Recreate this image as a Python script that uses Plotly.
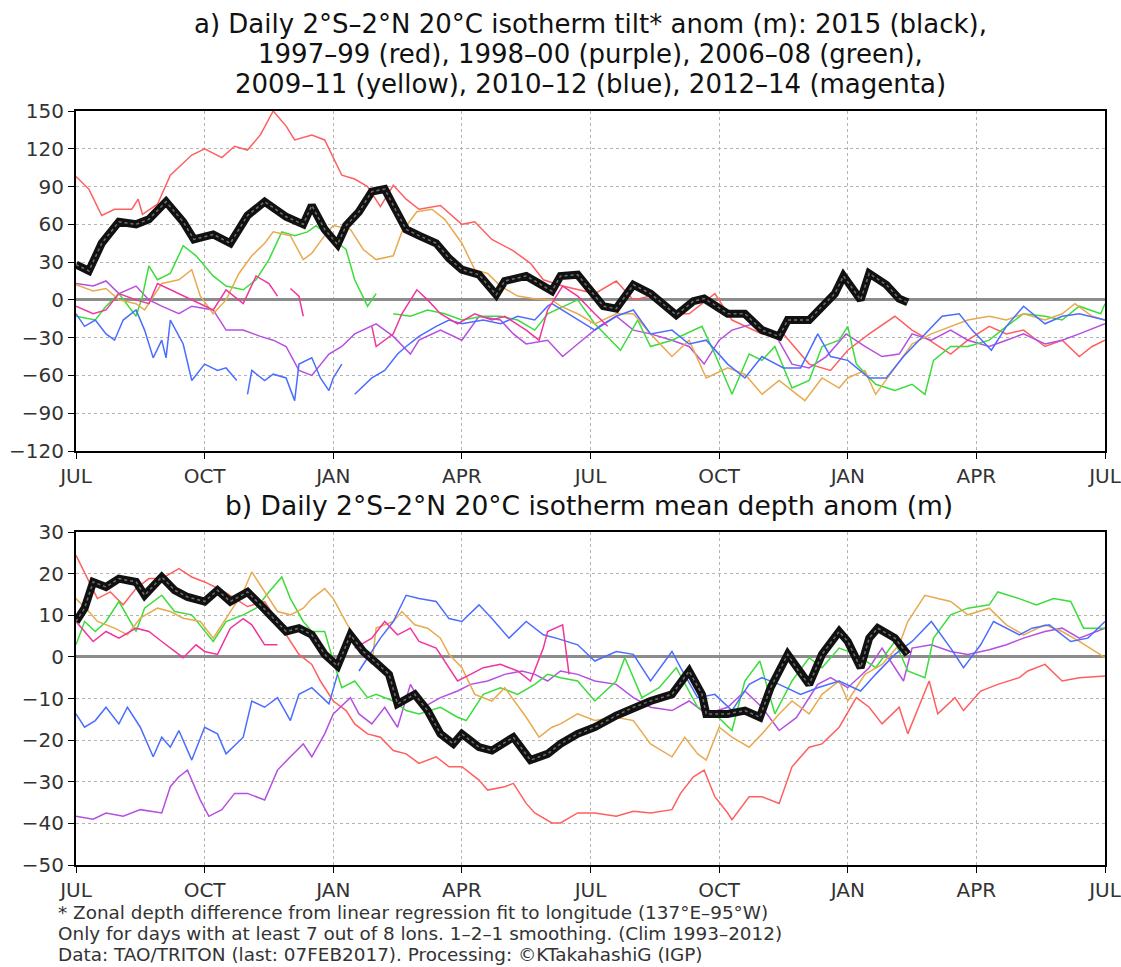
import plotly.graph_objects as go

# ---------------- data (x in months since July of first year) ----------------
MONTH_LABELS = ["JUL", "OCT", "JAN", "APR", "JUL", "OCT", "JAN", "APR", "JUL"]
MONTH_TICKS = [0, 3, 6, 9, 12, 15, 18, 21, 24]
A_TICKS = [-120, -90, -60, -30, 0, 30, 60, 90, 120, 150]
B_TICKS = [-50, -40, -30, -20, -10, 0, 10, 20, 30]

# Panel a: isotherm tilt anomaly (m)
A_BLACK_X = [0, 0.3, 0.6, 1.0, 1.4, 1.7, 2.1, 2.5, 2.75, 3.2, 3.6, 4.0, 4.4, 4.9, 5.3, 5.5, 5.8, 6.1, 6.3, 6.6,
             6.9, 7.2, 7.4, 7.7, 8.0, 8.4, 8.7, 9.0, 9.4, 9.8, 10.0, 10.5, 10.7, 11.1, 11.3, 11.7, 12.3, 12.6, 13.0,
             13.4, 14.0, 14.4, 14.65, 14.9, 15.2, 15.6, 16.0, 16.4, 16.6, 17.1, 17.4, 17.7, 17.9, 18.3, 18.5, 18.9,
             19.2, 19.4]
A_BLACK_Y = [28, 23, 45, 62, 60, 64, 78, 62, 48, 52, 45, 67, 78, 66, 60, 75, 56, 44, 59, 70,
             86, 88, 75, 56, 51, 45, 33, 24, 20, 4, 15, 19, 15, 7, 19, 20, -5, -7, 12,
             5, -12, -1, 1, -4, -11, -11, -24, -29, -16, -16, -5, 5, 19, 0, 21, 12,
             1, -2]

A_RED_X = [0, 0.3, 0.6, 0.9, 1.3, 1.45, 1.55, 1.9, 2.2, 2.7, 3.0, 3.4, 3.7, 4.0, 4.3, 4.6, 4.9, 5.1, 5.5, 5.8,
           6.2, 6.5, 6.8, 7.1, 7.4, 7.7, 8.0, 8.5, 9.0, 9.3, 9.7, 10.2, 10.6, 10.9, 11.35, 12.1, 12.6, 13.0, 13.4,
           13.9, 14.3, 14.9, 15.3, 16.0, 16.5, 17.1, 17.6, 18.0, 18.5, 19.1, 19.5, 19.9, 20.4, 20.8, 21.3, 21.7,
           22.1, 22.6, 23.0, 23.4, 23.7, 24.0]
A_RED_Y = [98, 88, 67, 72, 72, 80, 68, 76, 99, 115, 120, 113, 122, 119, 131, 150, 138, 127, 131, 127,
           99, 96, 90, 74, 91, 80, 72, 75, 60, 62, 48, 39, 29, 16, 11, 5, 15, 0, 3,
           -11, -11, 5, -16, -27, -27, -51, -56, -40, -27, -13, -24, -32, -43, -32, -21, -27,
           -24, -37, -32, -45, -37, -32]

A_PURPLE_X = [0, 0.4, 0.7, 1.0, 1.4, 1.7, 2.0, 2.4, 2.7, 3.2, 3.5, 3.9, 4.3, 4.6, 4.9, 5.2, 5.5, 5.9, 6.2, 6.5,
              7.0, 7.4, 7.8, 8.0, 8.5, 9.0, 9.4, 9.9, 10.2, 10.5, 11.0, 11.35, 11.7, 12.2, 12.6, 13.0, 13.4, 13.9,
              14.3, 14.65, 15.0, 15.3, 15.8, 16.3, 16.7, 17.1, 17.5, 17.96, 18.4, 18.8, 19.2, 19.5, 19.95, 20.4,
              20.8, 21.3, 21.7, 22.1, 22.6, 23.0, 23.4, 24.0]
A_PURPLE_Y = [13, 11, 15, 5, 11, 0, -5, -11, -5, -8, -24, -24, -29, -32, -37, -56, -60, -43, -37, -27,
              -19, -29, -43, -32, -24, -32, -13, -16, -27, -35, -32, -45, -35, -21, -13, -24, -27, -32,
              -37, -51, -32, -24, -19, -27, -51, -54, -45, -27, -37, -45, -43, -27, -32, -24,
              -32, -37, -32, -27, -35, -32, -27, -19]

A_GREEN_X = [0, 0.45, 0.7, 1.0, 1.4, 1.55, 1.7, 1.9, 2.2, 2.5, 2.8, 3.2, 3.5, 3.9, 4.2, 4.5, 4.8, 5.1, 5.4, 5.6,
             6.0, 6.3, 6.5, 6.8, 7.0, 7.2, 7.4, 7.8, 8.2, 8.6, 9.0, 9.5, 9.9, 10.3, 10.7, 11.0, 11.7, 12.1, 12.7,
             13.1, 13.4, 13.9, 14.6, 14.9, 15.3, 15.7, 16.0, 16.3, 16.7, 17.1, 17.4, 17.8, 18.0, 18.2, 18.65,
             19.1, 19.5, 19.8, 20.0, 20.4, 20.8, 21.3, 21.7, 22.1, 22.6, 23.0, 23.4, 23.9, 24.0]
A_GREEN_Y = [-13, -16, -5, 5, -13, 3, 27, 16, 21, 43, 35, 19, 11, 8, 16, 32, 54, 51, 54, 59,
             48, 40, 16, -5, 5, None, -11, -13, -8, -11, -16, -13, -13, -16, -24, -11, 0, -19, -40,
             -16, -37, -32, -21, -43, -75, -43, -48, -37, -70, -64, -37, -32, -21, -51, -67,
             -72, -67, -75, -48, -37, -37, -32, -21, -11, -13, -16, -5, -11, -3]

A_YELLOW_X = [0, 0.4, 0.7, 1.0, 1.4, 1.6, 2.0, 2.4, 2.7, 2.9, 3.2, 3.5, 3.8, 4.1, 4.4, 4.6, 5.0, 5.3, 5.5, 5.8,
              6.0, 6.4, 6.7, 7.0, 7.4, 7.6, 7.95, 8.3, 8.6, 9.0, 9.3, 9.6, 9.9, 10.3, 10.7, 11.1, 11.3, 11.7,
              12.1, 12.6, 13.0, 13.4, 13.9, 14.3, 14.7, 15.2, 15.6, 16.0, 16.4, 17.0, 17.4, 17.8, 18.0, 18.4,
              18.65, 19.1, 19.5, 19.95, 20.4, 20.8, 21.3, 21.7, 22.1, 22.6, 23.0, 23.3, 23.7, 24.0]
A_YELLOW_Y = [12, 7, 9, 0, -3, -8, 13, 16, 24, 3, -11, 0, 21, 35, 45, 54, 51, 32, 37, 51,
              59, 56, 40, 32, 35, 54, 70, 72, 64, 45, 24, 21, 11, 3, 1, 0, -5, -11,
              -19, -11, -11, -27, -45, -32, -62, -54, -59, -75, -64, -80, -62, -70, -62, -56,
              -75, -54, -35, -27, -21, -16, -13, -16, -11, -16, -11, -3, -13, -16]

A_BLUE_X = [0, 0.2, 0.45, 0.7, 0.9, 1.1, 1.4, 1.6, 1.8, 2.0, 2.1, 2.2, 2.5, 2.7, 3.0, 3.3, 3.5, 3.75, 3.85, 4.0,
            4.1, 4.4, 4.6, 4.9, 5.1, 5.2, 5.5, 5.7, 5.9, 6.0, 6.2, 6.3, 6.5, 6.9, 7.2, 7.5, 7.7, 8.0, 8.4, 8.7,
            9.0, 9.5, 9.9, 10.3, 10.7, 11.0, 11.1, 11.7, 12.1, 12.6, 13.0, 13.4, 13.9, 14.3, 14.7, 15.2, 15.6,
            16.0, 16.5, 16.9, 17.3, 17.6, 18.0, 18.5, 18.9, 19.3, 19.8, 20.2, 20.6, 20.9, 21.35, 21.7, 22.1,
            22.6, 23.0, 23.4, 24.0]
A_BLUE_Y = [-11, -21, -16, -27, -32, -16, -8, -24, -46, -32, -46, -16, -35, -64, -51, -56, -54, -64, None, -75,
            -56, -64, -59, -62, -80, -51, -46, -62, -72, -62, -51, None, -75, -62, -56, -43, -37, -29, -21, -16,
            -19, -16, -19, -13, -16, -5, -3, -16, -24, -13, -8, -27, -24, -35, -32, -51, -62,
            -45, -54, -54, -27, -45, -48, -62, -62, -45, -27, -13, -11, -24, -40, -21, -5,
            -19, -13, -11, -16]

A_MAGENTA_X = [0, 0.4, 0.7, 1.0, 1.4, 1.7, 1.9, 2.2, 2.5, 2.9, 3.2, 3.5, 3.9, 4.2, 4.5, 4.7, 4.85, 5.0, 5.2, 5.3,
               6.0, 6.9, 7.0, 7.4, 7.6, 7.95, 8.2, 8.5, 8.9, 9.3, 9.7, 10.0, 10.5, 10.8, 11.0, 11.35, 11.7,
               12.1, 12.4]
A_MAGENTA_Y = [-5, -11, -8, 5, 0, -3, 13, 8, 3, -3, -8, 8, -3, 19, 13, 3, None, 9, 3, -13,
               None, -21, -37, -27, -11, 8, 0, -11, -19, -11, -16, -13, -24, -32, -8, 11, 3,
               -11, -21]

# Panel b: isotherm mean depth anomaly (m)
B_BLACK_X = [0, 0.2, 0.4, 0.7, 1.0, 1.4, 1.6, 2.0, 2.3, 2.6, 3.0, 3.3, 3.6, 4.0, 4.3, 4.6, 4.9, 5.2, 5.5, 5.8,
             6.1, 6.4, 6.7, 7.0, 7.3, 7.5, 7.9, 8.2, 8.5, 8.8, 9.0, 9.4, 9.7, 10.2, 10.6, 11.0, 11.3, 11.7, 12.1,
             12.6, 13.0, 13.4, 13.9, 14.3, 14.6, 14.7, 15.2, 15.6, 15.95, 16.2, 16.6, 16.9, 17.1, 17.4, 17.8,
             18.0, 18.3, 18.5, 18.7, 19.1, 19.4]
B_BLACK_Y = [8.5, 11.7, 18, 16.8, 18.8, 18, 14.8, 19.2, 16, 14.4, 13.3, 16, 13.3, 15.6, 12.5, 9.3, 6.1, 6.9, 5.3,
             0.6, -2.2, 5.3, 1.3, -1.4, -4.2, -11.3, -9, -12.9, -18.5, -20.9, -18.5, -21.7, -22.5, -19.3, -24.8,
             -23.3, -20.9, -18.5, -16.9, -14.1, -12.1, -10.6, -9, -3.4, -9, -13.7, -13.7, -12.9, -14.5, -7.4,
             0.6, -4.2, -6.6, 0.6, 6.1, 3.7, -2.6, 4.5, 6.9, 4.5, 0.6]

B_RED_X = [0, 0.3, 0.5, 0.8, 1.1, 1.4, 1.7, 2.0, 2.4, 2.7, 3.0, 3.4, 3.7, 4.0, 4.4, 4.7, 5.0, 5.2, 5.5, 5.7,
           6.0, 6.3, 6.5, 6.8, 7.1, 7.4, 7.7, 8.0, 8.4, 8.7, 9.0, 9.4, 9.6, 10.0, 10.2, 10.5, 10.7, 11.1, 11.3,
           11.7, 12.1, 12.6, 13.0, 13.4, 13.9, 14.1, 14.4, 14.65, 14.9, 15.2, 15.3, 15.7, 16.0, 16.4, 16.7,
           17.1, 17.4, 17.8, 18.2, 18.5, 18.8, 19.2, 19.4, 19.9, 20.1, 20.5, 20.7, 21.1, 21.5, 22.0, 22.2,
           22.6, 23.0, 23.4, 24.0]
B_RED_Y = [24.4, 18, 14, 15.6, 12.5, 16.4, 18.8, 18.8, 21.2, 19.2, 18, 16, 14, 12.1, 13.3, 8.5, 3.7, 0.6, -1.8,
           -5.8, -10.6, -12.9, -16.1, -18.5, -19.3, -22.5, -23.3, -25.6, -24, -26.4, -26.4, -29.6, -32, -31.2,
           -30.4, -35.2, -37.5, -39.9, -39.9, -37.5, -37.5, -38.3, -37.1, -37.5, -36.7, -32.8, -28.8, -27.2,
           -33.6, -37.5, -39.1, -33.6, -33.6, -35.2, -26.4, -21.7, -20.9, -16.9, -9.8, -12.1, -16.1, -12.1,
           -18.5, -5.8, -13.7, -9.8, -12.9, -8.2, -6.6, -5, -3.4, -1.8, -5.8, -5, -4.6]

B_PURPLE_X = [0, 0.4, 0.7, 1.1, 1.5, 2.0, 2.2, 2.4, 2.6, 2.9, 3.1, 3.4, 3.7, 4.0, 4.4, 4.7, 5.0, 5.3, 5.5, 5.8,
              6.0, 6.4, 6.6, 6.9, 7.2, 7.5, 7.8, 8.1, 8.5, 8.9, 9.2, 9.6, 10.0, 10.4, 10.7, 11.0, 11.3, 11.7,
              12.1, 12.6, 13.0, 13.4, 13.9, 14.3, 14.7, 15.2, 15.6, 16.0, 16.4, 16.8, 17.3, 17.6, 18.0, 18.5,
              18.8, 19.3, 19.5, 19.95, 20.4, 20.8, 21.3, 21.7, 22.1, 22.6, 23.0, 23.4, 24.0]
B_PURPLE_Y = [-38.3, -39, -37.5, -38.3, -36.7, -37.5, -31.2, -28.8, -27.2, -34.4, -38.3, -36.7, -32.8, -32.8,
              -34.4, -27.2, -24, -20.9, -24, -18.5, -13.7, -9.8, -13.7, -16.1, -12.1, -16.9, -6.6, -12.1, -9.8,
              -8.2, -6.6, -5.8, -4.2, -3.4, -4.2, -5.8, -3.4, -4.2, -5.8, -6.6, -9.8, -12.1, -12.9, -10.6,
              -13.7, -12.1, -8.2, -12.1, -17.7, -14.6, -6.6, -5, -7.4, -2.6, 2.1, -5.8, 2.1, 2.9, 1.3, 0.6,
              1.7, 2.9, 4.5, 6.1, 6.9, 4.5, 6.9]

B_GREEN_X = [0, 0.2, 0.45, 0.7, 1.0, 1.4, 1.6, 2.0, 2.3, 2.7, 3.2, 3.5, 3.9, 4.2, 4.5, 4.8, 5.0, 5.3, 5.5, 5.8,
             6.0, 6.2, 6.5, 6.8, 7.0, 7.4, 7.7, 8.0, 8.5, 8.9, 9.1, 9.5, 9.9, 10.3, 10.7, 11.0, 11.3, 11.7, 12.1,
             12.6, 12.8, 13.2, 13.6, 14.0, 14.5, 14.9, 15.3, 15.6, 15.95, 16.3, 16.7, 17.1, 17.4, 17.8, 18.2,
             18.65, 19.1, 19.4, 19.8, 20.0, 20.4, 20.8, 21.3, 21.5, 22.0, 22.4, 22.8, 23.2, 23.5, 24.0]
B_GREEN_Y = [2.9, 8.5, 6.1, 8.5, 13.3, 6.1, 11.7, 14.8, 10.9, 10.1, 3.7, 8.5, 10.1, 11.7, 15.6, 19.2, 14, 8.5,
             6.1, 6.1, -1, -7.4, -5.8, -9.8, -9, -10.6, -12.9, -13.7, -12.1, -14.5, -15.3, -9, -7.4, -9, -6.6,
             -4.2, -5, -5.8, -10.6, -5.8, -0.2, -9.8, -7.4, -2.6, -12.1, -13.7, -17.7, -5.8, -1, -13.7, -5.8,
             -0.2, -2.6, 2.1, 0.6, -2.6, 3.7, -3.4, -5, 4.5, 10.1, 11.7, 12.5, 15.6, 14, 12.5, 14, 13.3, 6.9,
             6.9]

B_YELLOW_X = [0, 0.3, 0.5, 0.9, 1.2, 1.5, 1.9, 2.2, 2.5, 2.9, 3.2, 3.5, 3.9, 4.1, 4.4, 4.7, 5.0, 5.3, 5.5, 5.8,
              6.0, 6.3, 6.5, 6.9, 7.0, 7.4, 7.6, 7.9, 8.2, 8.5, 8.7, 9.0, 9.3, 9.7, 10.0, 10.5, 10.8, 11.1, 11.3,
              11.7, 12.1, 12.6, 13.0, 13.4, 13.9, 14.2, 14.5, 14.7, 15.0, 15.3, 15.7, 16.0, 16.4, 16.7, 17.1,
              17.4, 17.8, 18.0, 18.4, 18.8, 19.2, 19.4, 19.8, 20.1, 20.4, 20.8, 21.3, 21.7, 22.1, 22.6, 23.0,
              23.4, 24.0]
B_YELLOW_Y = [14, 10.9, 8.5, 6.9, 5.3, 9.3, 11.7, 10.9, 9.3, 8.5, 4.5, 9.3, 15.6, 20.4, 15.6, 10.9, 10.1, 11.7,
              14, 16.4, 14, 8.5, 4.5, -1.8, 6.9, 8.5, 10.9, 7.7, 6.9, 4.5, 0.6, -2.6, -9, -10.6, -7.4, -14.5,
              -19.3, -16.9, -16.1, -13.7, -15.3, -14.5, -15.3, -20.9, -24, -19.3, -23.3, -24.8, -16.9, -19.3,
              -21.7, -18.5, -13.7, -10.6, -13.7, -9, -5.8, -10.6, -4.2, -1.8, 2.9, 8.5, 14.8, 14, 13.3, 10.1,
              11.7, 7.7, 5.3, 7.7, 6.1, 3.7, -0.2]

B_BLUE_X = [0, 0.2, 0.45, 0.7, 1.0, 1.2, 1.5, 1.8, 2.0, 2.2, 2.4, 2.7, 3.0, 3.3, 3.5, 3.9, 4.1, 4.4, 4.7, 5.0,
            5.2, 5.5, 5.9, 6.1, 6.35, 6.6, 6.9, 7.1, 7.4, 7.7, 8.0, 8.4, 8.7, 9.0, 9.4, 9.7, 10.1, 10.5, 10.9,
            11.2, 11.7, 12.1, 12.6, 13.0, 13.4, 13.9, 14.1, 14.5, 14.9, 15.3, 15.7, 16.0, 16.4, 16.9, 17.3,
            17.8, 18.3, 18.65, 19.1, 19.5, 19.95, 20.4, 20.7, 21.1, 21.4, 22.0, 22.3, 22.7, 23.2, 23.6, 24.0]
B_BLUE_Y = [-13.7, -16.9, -15.3, -12.1, -16.1, -12.1, -16.9, -24, -19.3, -21.7, -17.7, -24.8, -16.9, -18.5,
            -23.3, -19.3, -10.6, -12.1, -9.8, -15.3, -9, -7.4, -11.3, -4.2, None, -3.4, 1.3, 4.5, 8.5, 14.8, 14,
            13.3, 9.2, 8.5, 12.5, 9.2, 4.5, 8.5, 5.3, 4.5, 2.9, -1, 1.3, 0.6, -5.8, 1.3, -2.6, -9.8, -9, -12.9,
            -6.6, -5, -6.6, -9, -7.4, -5.8, -8.2, -4.2, 0.6, 3.7, 8.5, 2.1, -2.6, 2.9, 8.5, 5.3, 6.9, 7.7, 3.7,
            4.5, 8.5]

B_MAGENTA_X = [0, 0.4, 0.7, 1.0, 1.4, 1.7, 2.0, 2.5, 2.8, 3.0, 3.3, 3.6, 3.9, 4.1, 4.4, 4.7, 5.5, 6.5, 6.9, 7.2,
               7.5, 7.8, 8.0, 8.4, 8.6, 8.9, 9.2, 9.5, 9.9, 10.3, 10.6, 10.9, 11.0, 11.35, 11.5]
B_MAGENTA_Y = [8.5, 3.7, 6.1, 4.5, 6.9, 6.1, 3.7, -0.2, 2.9, 1.3, 0.6, 6.9, 9.2, 7.7, 2.9, 2.9, None, 2.1, 4.5,
               8.5, 5.3, 6.9, 3.7, 2.1, -1, -5.8, -4.2, -2.6, -1.8, -3.4, -5.8, 2.1, 6.1, 7.7, -4.2]

# ---------------- styling ----------------
RED = "#ff5f5f"
PURPLE = "#b54fe0"
GREEN = "#3cdc3c"
YELLOW = "#e8aa4e"
BLUE = "#4b6dff"
MAGENTA = "#f0359c"
BLACK = "#111111"

TITLE_FONT = "DejaVu Sans"
TICK_FONT = dict(family="DejaVu Sans", size=20, color="#333333")

W, H = 1121.0, 967.0
ML, MR = 76, W - 1105
PW = W - ML - MR


def py(px):
    """paper y for a screen pixel row"""
    return 1 - px / H


def pxx(px):
    """paper x for a screen pixel column"""
    return (px - ML) / PW


panels = [
    ("x", "y", [(A_RED_X, A_RED_Y, RED), (A_PURPLE_X, A_PURPLE_Y, PURPLE), (A_GREEN_X, A_GREEN_Y, GREEN),
                (A_YELLOW_X, A_YELLOW_Y, YELLOW), (A_BLUE_X, A_BLUE_Y, BLUE),
                (A_MAGENTA_X, A_MAGENTA_Y, MAGENTA)], (A_BLACK_X, A_BLACK_Y)),
    ("x2", "y2", [(B_RED_X, B_RED_Y, RED), (B_PURPLE_X, B_PURPLE_Y, PURPLE), (B_GREEN_X, B_GREEN_Y, GREEN),
                  (B_YELLOW_X, B_YELLOW_Y, YELLOW), (B_BLUE_X, B_BLUE_Y, BLUE),
                  (B_MAGENTA_X, B_MAGENTA_Y, MAGENTA)], (B_BLACK_X, B_BLACK_Y)),
]

fig = go.Figure()
for xa, ya, colored, black in panels:
    for xs, ys, col in colored:
        assert len(xs) == len(ys)
        fig.add_trace(go.Scatter(x=xs, y=ys, mode="lines", xaxis=xa, yaxis=ya,
                                 line=dict(color=col, width=1.5), showlegend=False, hoverinfo="skip"))
    assert len(black[0]) == len(black[1])
    fig.add_trace(go.Scatter(x=black[0], y=black[1], mode="lines", xaxis=xa, yaxis=ya,
                             line=dict(color=BLACK, width=8), showlegend=False, hoverinfo="skip"))
    fig.add_trace(go.Scatter(x=black[0], y=black[1], mode="lines", xaxis=xa, yaxis=ya,
                             line=dict(color="#707070", width=1.5, dash="dot"), showlegend=False,
                             hoverinfo="skip"))

common_x = dict(range=[0, 24], tickvals=MONTH_TICKS, ticktext=MONTH_LABELS, showgrid=True,
                gridcolor="#b4b4b4", griddash="dot", gridwidth=1, showline=True, linecolor="black",
                linewidth=2, mirror=True, ticks="outside", ticklen=6, tickcolor="black",
                tickfont=TICK_FONT, zeroline=False, automargin=False, ticklabeloverflow="allow")
common_y = dict(showgrid=True, gridcolor="#b4b4b4", griddash="dot", gridwidth=1, showline=True,
                linecolor="black", linewidth=2, mirror=True, ticks="outside", ticklen=6,
                tickcolor="black", tickfont=TICK_FONT, zeroline=True, zerolinecolor="#8c8c8c",
                zerolinewidth=3, automargin=False)

fig.update_layout(
    width=W, height=H,
    paper_bgcolor="white", plot_bgcolor="white",
    margin=dict(l=ML, r=MR, t=0, b=0, pad=0, autoexpand=False),
    xaxis=dict(common_x, domain=[0, 1], anchor="y"),
    yaxis=dict(common_y, domain=[py(451), py(111)], range=[-120, 150], tickvals=A_TICKS, anchor="x"),
    xaxis2=dict(common_x, domain=[0, 1], anchor="y2"),
    yaxis2=dict(common_y, domain=[py(865), py(532)], range=[-50, 30], tickvals=B_TICKS, anchor="x2"),
)

title_lines = [
    "a) Daily 2°S–2°N 20°C isotherm tilt* anom (m): 2015 (black),",
    "1997–99 (red), 1998–00 (purple), 2006–08 (green),",
    "2009–11 (yellow), 2010–12 (blue), 2012–14 (magenta)",
]
for txt, ypx in zip(title_lines, [24, 54.2, 84.4]):
    fig.add_annotation(text=txt, xref="paper", yref="paper", x=pxx(590), y=py(ypx),
                       xanchor="center", yanchor="middle", showarrow=False,
                       font=dict(family=TITLE_FONT, size=26, color="#111111"))
fig.add_annotation(text="b) Daily 2°S–2°N 20°C isotherm mean depth anom (m)", xref="paper", yref="paper",
                   x=pxx(589), y=py(505), xanchor="center", yanchor="middle", showarrow=False,
                   font=dict(family=TITLE_FONT, size=26.5, color="#111111"))

footer = [
    "* Zonal depth difference from linear regression fit to longitude (137°E–95°W)",
    "Only for days with at least 7 out of 8 lons. 1–2–1 smoothing. (Clim 1993–2012)",
    "Data: TAO/TRITON (last: 07FEB2017). Processing: ©KTakahashiG (IGP)",
]
for txt, ypx in zip(footer, [912, 933, 954]):
    fig.add_annotation(text=txt, xref="paper", yref="paper", x=pxx(56), y=py(ypx),
                       xanchor="left", yanchor="middle", showarrow=False,
                       font=dict(family="DejaVu Sans", size=18.4, color="#333333"))

# remove the default page margin so the 1121x967 figure fills the window exactly
fig.write_html("out.html", config={"displayModeBar": False},
               post_script="document.body.style.margin='0';document.body.style.overflow='hidden';")
